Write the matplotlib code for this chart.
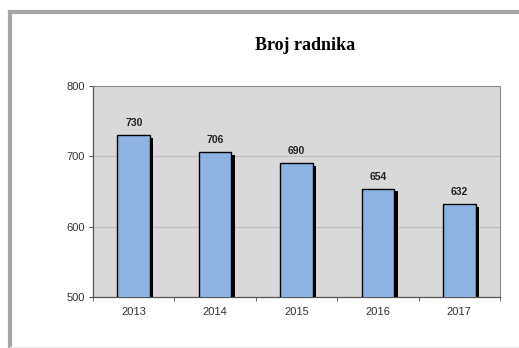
import matplotlib
matplotlib.use("Agg")
import matplotlib.pyplot as plt
import matplotlib.patheffects as pe
from matplotlib.lines import Line2D
import numpy as np

years = ["2013", "2014", "2015", "2016", "2017"]
workers = [730, 706, 690, 654, 632]
title = "Broj radnika"
yticks = [500, 600, 700, 800]

W, H = 519, 348
fig = plt.figure(figsize=(W / 100, H / 100), dpi=100)
fig.patch.set_facecolor("white")

# outer frame (left and top edges, light bottom edge)
fig.lines.append(Line2D([10 / W, 10 / W], [0, 1 - 12 / H], transform=fig.transFigure,
                        color="#a6a6a6", linewidth=3))
fig.lines.append(Line2D([10 / W, 1], [1 - 12 / H, 1 - 12 / H], transform=fig.transFigure,
                        color="#a6a6a6", linewidth=3))
fig.lines.append(Line2D([10 / W, 1], [1 - 346.5 / H, 1 - 346.5 / H], transform=fig.transFigure,
                        color="#ececec", linewidth=1))

ax = fig.add_axes([93 / W, 1 - 297 / H, (500 - 93) / W, (297 - 86) / H])
ax.set_facecolor("#d9d9d9")
x = np.arange(len(years))
ax.set_xlim(-0.5, len(years) - 0.5)
ax.set_ylim(500, 800)
ax.set_yticks(yticks)
ax.yaxis.grid(True, color="#bdbdbd", linewidth=0.8)
ax.set_axisbelow(True)

bars = ax.bar(x, workers, width=0.4, color="#8db3e2", edgecolor="black",
              linewidth=1.0, zorder=3)
for b in bars:
    b.set_path_effects([pe.SimplePatchShadow(offset=(2.5, -2), shadow_rgbFace="black", alpha=1.0),
                        pe.Normal()])

for xi, v in zip(x, workers):
    ax.annotate(str(v), (xi, v), xytext=(0, 5), textcoords="offset points",
                ha="center", va="bottom", fontsize=7.5, fontweight="bold",
                family="Liberation Sans", color="#222222")

ax.set_xticks(x)
ax.set_xticklabels(years, family="Liberation Sans", fontsize=8, color="#333333")
ax.set_xticks(np.arange(len(years) + 1) - 0.5, minor=True)
ax.tick_params(axis="x", which="major", length=0, pad=7)
ax.tick_params(axis="x", which="minor", length=3, direction="out", color="#555555")
ax.tick_params(axis="y", length=3, direction="out", color="#555555",
               labelsize=8, labelcolor="#333333", pad=3)
for lab in ax.get_yticklabels():
    lab.set_family("Liberation Sans")

for s in ["top", "right"]:
    ax.spines[s].set_color("#8c8c8c")
    ax.spines[s].set_linewidth(0.8)
for s in ["left", "bottom"]:
    ax.spines[s].set_color("#555555")
    ax.spines[s].set_linewidth(0.9)

fig.text(305 / W, 1 - 45 / H, title, ha="center", va="center",
         fontsize=13, fontweight="bold", family="Liberation Serif")

fig.savefig("out.png", dpi=100)
